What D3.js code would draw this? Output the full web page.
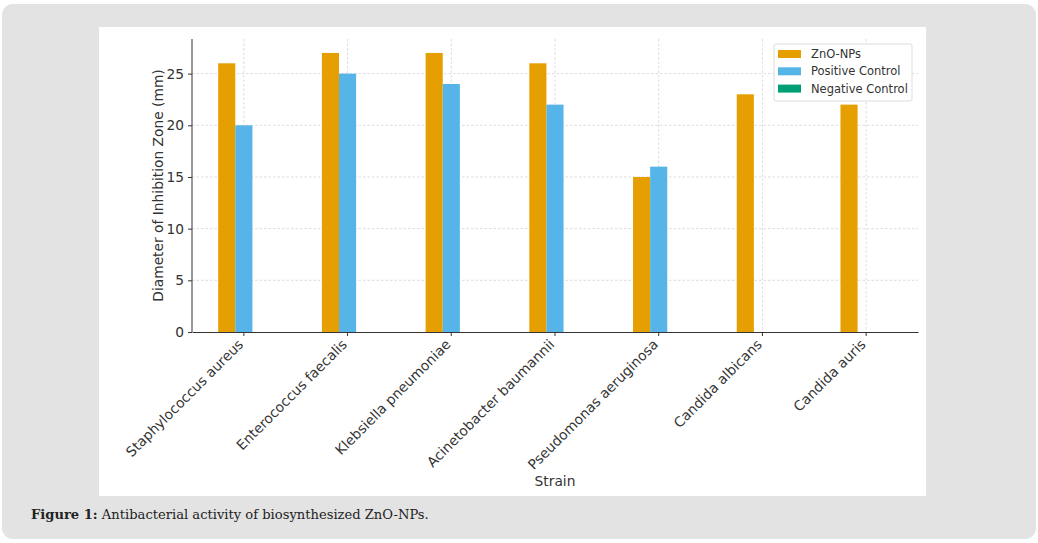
<!DOCTYPE html>
<html>
<head>
<meta charset="utf-8">
<script src="https://cdn.jsdelivr.net/npm/d3@7"></script>
<style>
  html, body { margin: 0; padding: 0; background: #ffffff; }
  svg { display: block; }
</style>
</head>
<body>
<div id="chart"></div>
<script>
// chart values
const strains = ["Staphylococcus aureus", "Enterococcus faecalis", "Klebsiella pneumoniae",
  "Acinetobacter baumannii", "Pseudomonas aeruginosa", "Candida albicans", "Candida auris"];
const znoNps = [26, 27, 27, 26, 15, 23, 22];
const positiveControl = [20, 25, 24, 22, 16, 0, 0];
const negativeControl = [0, 0, 0, 0, 0, 0, 0];
const seriesNames = ["ZnO-NPs", "Positive Control", "Negative Control"];
const yTicks = [0, 5, 10, 15, 20, 25];

document.addEventListener('DOMContentLoaded', function() {
    const width = 1038, height = 543;
    const colors = ["#E69F00", "#56B4E9", "#009E73"];
    const series = [znoNps, positiveControl, negativeControl];
    const fontSize = '13.8px';

    const svg = d3.select('#chart').append('svg')
        .attr('width', width)
        .attr('height', height);

    // page frame: grey rounded panel with the white figure inside
    svg.append('rect')
        .attr('x', 2).attr('y', 4)
        .attr('width', 1034).attr('height', 535)
        .attr('rx', 11)
        .attr('fill', '#e3e3e3');
    svg.append('rect')
        .attr('x', 99).attr('y', 27)
        .attr('width', 827).attr('height', 469)
        .attr('fill', '#ffffff');

    const margin = { left: 192, right: 918, top: 39, bottom: 332 };

    const x = d3.scaleBand()
        .domain(strains)
        .range([margin.left, margin.right])
        .padding(0);

    const y = d3.scaleLinear()
        .domain([0, 28.35])
        .range([margin.bottom, margin.top]);

    const barW = x.bandwidth() * 0.165;
    const center = d => x(d) + x.bandwidth() / 2;

    // grid
    const grid = svg.append('g').attr('class', 'grid');
    grid.selectAll('.hgrid')
        .data(yTicks.slice(1))
        .enter().append('line')
        .attr('x1', margin.left).attr('x2', margin.right)
        .attr('y1', d => y(d)).attr('y2', d => y(d))
        .attr('stroke', '#d4d4d4')
        .attr('stroke-width', 0.8)
        .attr('stroke-dasharray', '2.5,2');
    grid.selectAll('.vgrid')
        .data(strains)
        .enter().append('line')
        .attr('x1', d => center(d)).attr('x2', d => center(d))
        .attr('y1', margin.top).attr('y2', margin.bottom)
        .attr('stroke', '#d4d4d4')
        .attr('stroke-width', 0.8)
        .attr('stroke-dasharray', '2.5,2');

    // bars: ZnO left of tick, positive on tick, negative right of tick
    series.forEach((vals, s) => {
        svg.append('g').selectAll('rect')
            .data(strains.map((d, i) => ({ strain: d, value: vals[i] })))
            .enter().append('rect')
            .attr('x', d => center(d.strain) + (s - 1.5) * barW)
            .attr('y', d => y(d.value))
            .attr('width', barW)
            .attr('height', d => y(0) - y(d.value))
            .attr('fill', colors[s]);
    });

    // axes
    const yAxis = svg.append('g')
        .attr('transform', `translate(${margin.left},0)`)
        .call(d3.axisLeft(y).tickValues(yTicks).tickSize(4).tickPadding(4));
    const xAxis = svg.append('g')
        .attr('transform', `translate(0,${margin.bottom})`)
        .call(d3.axisBottom(x).tickSize(4).tickPadding(4).tickSizeOuter(0));

    [yAxis, xAxis].forEach(ax => {
        ax.select('.domain').attr('stroke', '#333').attr('stroke-width', 1);
        ax.selectAll('.tick line').attr('stroke', '#333');
        ax.selectAll('.tick text')
            .attr('fill', '#333')
            .style('font-family', 'DejaVu Sans')
            .style('font-size', fontSize);
    });
    yAxis.select('.domain').attr('d', `M0,${margin.top}V${margin.bottom}`);

    xAxis.selectAll('.tick text')
        .attr('text-anchor', 'end')
        .attr('dy', '0.75em')
        .attr('transform', 'translate(-7,6) rotate(-45)')
        .attr('y', 0).attr('x', 0);

    // axis labels
    svg.append('text')
        .attr('transform', `translate(163,${(margin.top + margin.bottom) / 2}) rotate(-90)`)
        .attr('text-anchor', 'middle')
        .attr('fill', '#333')
        .style('font-family', 'DejaVu Sans')
        .style('font-size', fontSize)
        .text('Diameter of Inhibition Zone (mm)');
    svg.append('text')
        .attr('x', 555).attr('y', 486)
        .attr('text-anchor', 'middle')
        .attr('fill', '#333')
        .style('font-family', 'DejaVu Sans')
        .style('font-size', fontSize)
        .text('Strain');

    // legend
    const legend = svg.append('g').attr('transform', 'translate(774,44)');
    legend.append('rect')
        .attr('width', 138).attr('height', 57)
        .attr('rx', 2)
        .attr('fill', '#ffffff')
        .attr('fill-opacity', 0.85)
        .attr('stroke', '#dddddd');
    seriesNames.forEach((name, i) => {
        legend.append('rect')
            .attr('x', 4).attr('y', 6 + i * 17.3)
            .attr('width', 23).attr('height', 8)
            .attr('fill', colors[i]);
        legend.append('text')
            .attr('x', 37).attr('y', 14 + i * 17.3)
            .attr('fill', '#333')
            .style('font-family', 'DejaVu Sans')
            .style('font-size', '11.5px')
            .text(name);
    });

    // caption
    const cap = svg.append('text')
        .attr('x', 31).attr('y', 519)
        .attr('fill', '#222')
        .style('font-family', 'DejaVu Serif')
        .style('font-size', '13.1px');
    cap.append('tspan').style('font-weight', 'bold').text('Figure 1:');
    cap.append('tspan').text(' Antibacterial activity of biosynthesized ZnO-NPs.');
});
</script>
</body>
</html>
